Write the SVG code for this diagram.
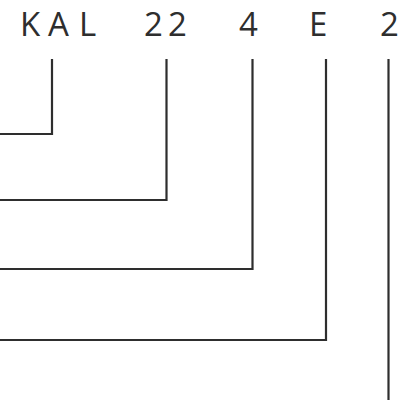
<svg xmlns="http://www.w3.org/2000/svg" width="398" height="404" viewBox="0 0 398 404">
<style>
.lbl{font-family:"Open Sans","Noto Sans",sans-serif;font-size:33px;fill:#2e2e2e;}
.ln{fill:none;stroke:#2e2e2e;stroke-width:2.2;}
</style>
<rect width="398" height="404" fill="#fff"/>
<g id="labels">
<text class="lbl" x="20 48 79" y="36">KAL</text>
<text class="lbl" x="144 168" y="36">22</text>
<text class="lbl" x="239" y="36">4</text>
<text class="lbl" x="309" y="36">E</text>
<text class="lbl" x="380" y="36">2</text>
</g>
<g id="connectors">
<polyline class="ln" points="52,59 52,134 0,134"/>
<polyline class="ln" points="166.5,59 166.5,200 0,200"/>
<polyline class="ln" points="252.5,59 252.5,269 0,269"/>
<polyline class="ln" points="326,59 326,340 0,340"/>
<polyline class="ln" points="388.5,59 388.5,400"/>
</g>
</svg>
